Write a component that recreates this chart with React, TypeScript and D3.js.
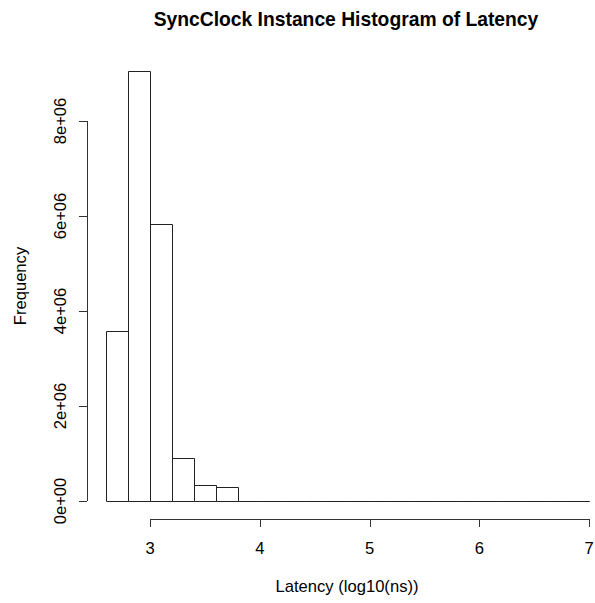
import React from 'react';
import * as d3 from 'd3';

// histogram breaks (log10 ns) and counts per bin
const breaks = [2.6, 2.8, 3.0, 3.2, 3.4, 3.6, 3.8, 4.0, 4.2, 4.4, 4.6, 4.8, 5.0, 5.2, 5.4, 5.6, 5.8, 6.0, 6.2, 6.4, 6.6, 6.8, 7.0];
const counts = [3570000, 9050000, 5830000, 910000, 337000, 290000, 6000, 1500, 800, 300, 200, 100, 80, 50, 30, 20, 10, 10, 5, 5, 2, 1];
const xTicks = [3, 4, 5, 6, 7];
const yTicks = [0, 2e6, 4e6, 6e6, 8e6];
const yTickLabels = ['0e+00', '2e+06', '4e+06', '6e+06', '8e+06'];

const font = '"Liberation Sans", Arial, Helvetica, sans-serif';

const App: React.FC = () => {
  const width = 595;
  const height = 603;

  const x = d3.scaleLinear().domain([3, 7]).range([150, 589]);
  const y = d3.scaleLinear().domain([0, 8e6]).range([501, 121]);

  const bins = counts.map((c, i) => ({ x0: breaks[i], x1: breaks[i + 1], count: c }));

  const axisY = 519;
  const axisX = 87;
  const tickLen = 8;
  const fs = 16.6;

  // each bin as a closed outline so empty bins still show on the baseline
  const binPath = (b: { x0: number; x1: number; count: number }) => {
    const xa = Math.round(x(b.x0)) + 0.5;
    const xb = Math.round(x(b.x1)) + 0.5;
    const yb = Math.round(y(0)) + 0.5;
    const yt = Math.round(y(b.count)) + 0.5;
    const p = d3.path();
    p.moveTo(xa, yb);
    p.lineTo(xa, yt);
    p.lineTo(xb, yt);
    p.lineTo(xb, yb);
    p.closePath();
    return p.toString();
  };

  return (
    <svg
      width={width}
      height={height}
      style={{ position: 'absolute', left: 0, top: 0, background: '#fff' }}
      fontFamily={font}
    >
      <rect width={width} height={height} fill="#fff" />

      {/* title */}
      <text x={346} y={26} textAnchor="middle" fontSize={19.3} fontWeight="bold" fill="#000">
        SyncClock Instance Histogram of Latency
      </text>

      {/* bars */}
      <g>
        {bins.map((b, i) => (
          <path key={i} d={binPath(b)} fill="none" stroke="#222" strokeWidth={1} />
        ))}
      </g>

      {/* x axis */}
      <g stroke="#333" strokeWidth={1}>
        <line x1={x(xTicks[0])} x2={x(xTicks[xTicks.length - 1])} y1={axisY + 0.5} y2={axisY + 0.5} />
        {xTicks.map(t => (
          <line key={t} x1={Math.round(x(t)) + 0.5} x2={Math.round(x(t)) + 0.5} y1={axisY} y2={axisY + tickLen} />
        ))}
      </g>
      {xTicks.map(t => (
        <text key={t} x={x(t)} y={553.5} textAnchor="middle" fontSize={fs} fill="#000">
          {t}
        </text>
      ))}
      <text x={347} y={592} textAnchor="middle" fontSize={fs} fill="#000">
        Latency (log10(ns))
      </text>

      {/* y axis */}
      <g stroke="#333" strokeWidth={1}>
        <line x1={axisX + 0.5} x2={axisX + 0.5} y1={y(yTicks[0])} y2={y(yTicks[yTicks.length - 1])} />
        {yTicks.map(t => (
          <line key={t} x1={axisX - tickLen} x2={axisX} y1={Math.round(y(t)) + 0.5} y2={Math.round(y(t)) + 0.5} />
        ))}
      </g>
      {yTicks.map((t, i) => (
        <text
          key={t}
          transform={`translate(65.5,${y(t)}) rotate(-90)`}
          textAnchor="middle"
          fontSize={fs}
          fill="#000"
        >
          {yTickLabels[i]}
        </text>
      ))}
      <text transform="translate(26,286) rotate(-90)" textAnchor="middle" fontSize={fs} fill="#000">
        Frequency
      </text>
    </svg>
  );
};

export default App;
